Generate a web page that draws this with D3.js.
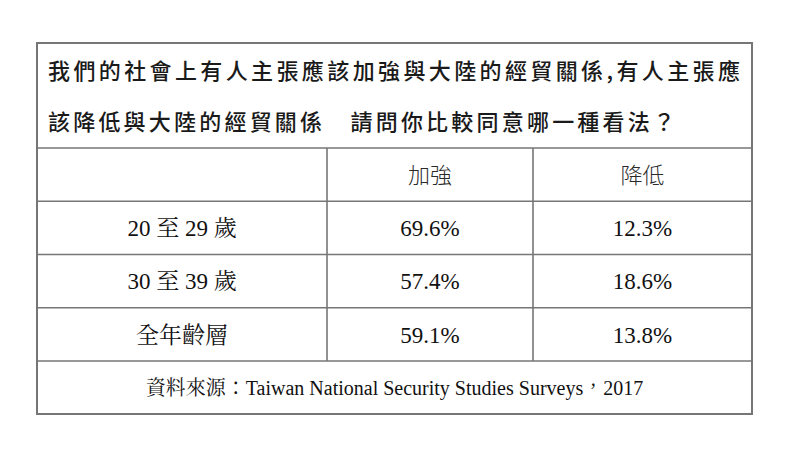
<!DOCTYPE html>
<html>
<head>
<meta charset="utf-8">
<script src="https://cdn.jsdelivr.net/npm/d3@7"></script>
<style>
  html, body { margin: 0; padding: 0; background: #fff; }
</style>
</head>
<body>
<div id="table"></div>
<script>
// data
const titleLines = [
    "我們的社會上有人主張應該加強與大陸的經貿關係,有人主張應",
    "該降低與大陸的經貿關係　請問你比較同意哪一種看法？"
];
const columns = ["加強", "降低"];
const groups = ["20 至 29 歲", "30 至 39 歲", "全年齡層"];
const strengthen = [69.6, 57.4, 59.1];
const reduce = [12.3, 18.6, 13.8];
const source = "資料來源：Taiwan National Security Studies Surveys，2017";

// layout
const W = 800, H = 461;
const box = { left: 37, right: 752, top: 43, bottom: 414 };
const titleBottom = 148, bodyBottom = 361;
const colEdges = [box.left, 327, 533, box.right];

const svg = d3.select("#table")
    .append("svg")
    .attr("width", W)
    .attr("height", H);

svg.append("rect").attr("width", W).attr("height", H).attr("fill", "#fff");

// rows: header + groups
const y = d3.scaleBand()
    .domain(["header", ...groups])
    .range([titleBottom, bodyBottom]);

// columns
const x = d3.scaleOrdinal()
    .domain(["label", ...columns])
    .range([0, 1, 2]);
const colCenter = k => (colEdges[x(k)] + colEdges[x(k) + 1]) / 2;

const lineColor = "#767676";
const lw = 1.6;

// horizontal lines
const hLines = [titleBottom, ...groups.map(g => y(g)), bodyBottom];
svg.selectAll(".hline")
    .data(hLines)
    .enter().append("line")
    .attr("x1", box.left).attr("x2", box.right)
    .attr("y1", d => d).attr("y2", d => d)
    .attr("stroke", lineColor).attr("stroke-width", lw);

// vertical dividers (only in the body)
svg.selectAll(".vline")
    .data(colEdges.slice(1, 3))
    .enter().append("line")
    .attr("x1", d => d).attr("x2", d => d)
    .attr("y1", titleBottom).attr("y2", bodyBottom)
    .attr("stroke", lineColor).attr("stroke-width", lw);

// outer border
svg.append("rect")
    .attr("x", box.left).attr("y", box.top)
    .attr("width", box.right - box.left).attr("height", box.bottom - box.top)
    .attr("fill", "none")
    .attr("stroke", lineColor).attr("stroke-width", lw + 0.4);

// title
const sans = "'Noto Sans CJK TC', 'Noto Sans CJK SC', sans-serif";
const serif = "'Liberation Serif', 'Noto Serif CJK TC', 'Noto Sans CJK TC', serif";

svg.selectAll(".title")
    .data(titleLines)
    .enter().append("text")
    .attr("x", 48)
    .attr("y", (d, i) => 71 + i * 51)
    .attr("dy", "0.36em")
    .attr("textLength", (d, i) => i === 0 ? 692 : 627)
    .attr("lengthAdjust", "spacing")
    .style("font-family", sans)
    .style("font-size", "22px")
    .style("font-weight", 500)
    .style("fill", "#1a1a1a")
    .text(d => d);

// header
svg.selectAll(".colhead")
    .data(columns)
    .enter().append("text")
    .attr("x", d => colCenter(d))
    .attr("y", y("header") + y.bandwidth() / 2)
    .attr("dy", "0.36em")
    .attr("text-anchor", "middle")
    .style("font-family", sans)
    .style("font-size", "22px")
    .style("font-weight", 300)
    .style("fill", "#2a2a2a")
    .text(d => d);

// body rows
const fmt = v => d3.format(".1f")(v) + "%";
const rows = groups.map((g, i) => ({ g, cells: [g, fmt(strengthen[i]), fmt(reduce[i])] }));

rows.forEach(r => {
    svg.selectAll(null)
        .data(r.cells)
        .enter().append("text")
        .attr("x", (d, j) => colCenter(["label", ...columns][j]))
        .attr("y", y(r.g) + y.bandwidth() / 2)
        .attr("dy", "0.36em")
        .attr("text-anchor", "middle")
        .style("font-family", serif)
        .style("font-size", "23px")
        .style("fill", "#111")
        .text(d => d);
});

// footer
svg.append("text")
    .attr("x", (box.left + box.right) / 2)
    .attr("y", (bodyBottom + box.bottom) / 2)
    .attr("dy", "0.36em")
    .attr("text-anchor", "middle")
    .style("font-family", serif)
    .style("font-size", "20px")
    .style("fill", "#111")
    .text(source);
</script>
</body>
</html>
